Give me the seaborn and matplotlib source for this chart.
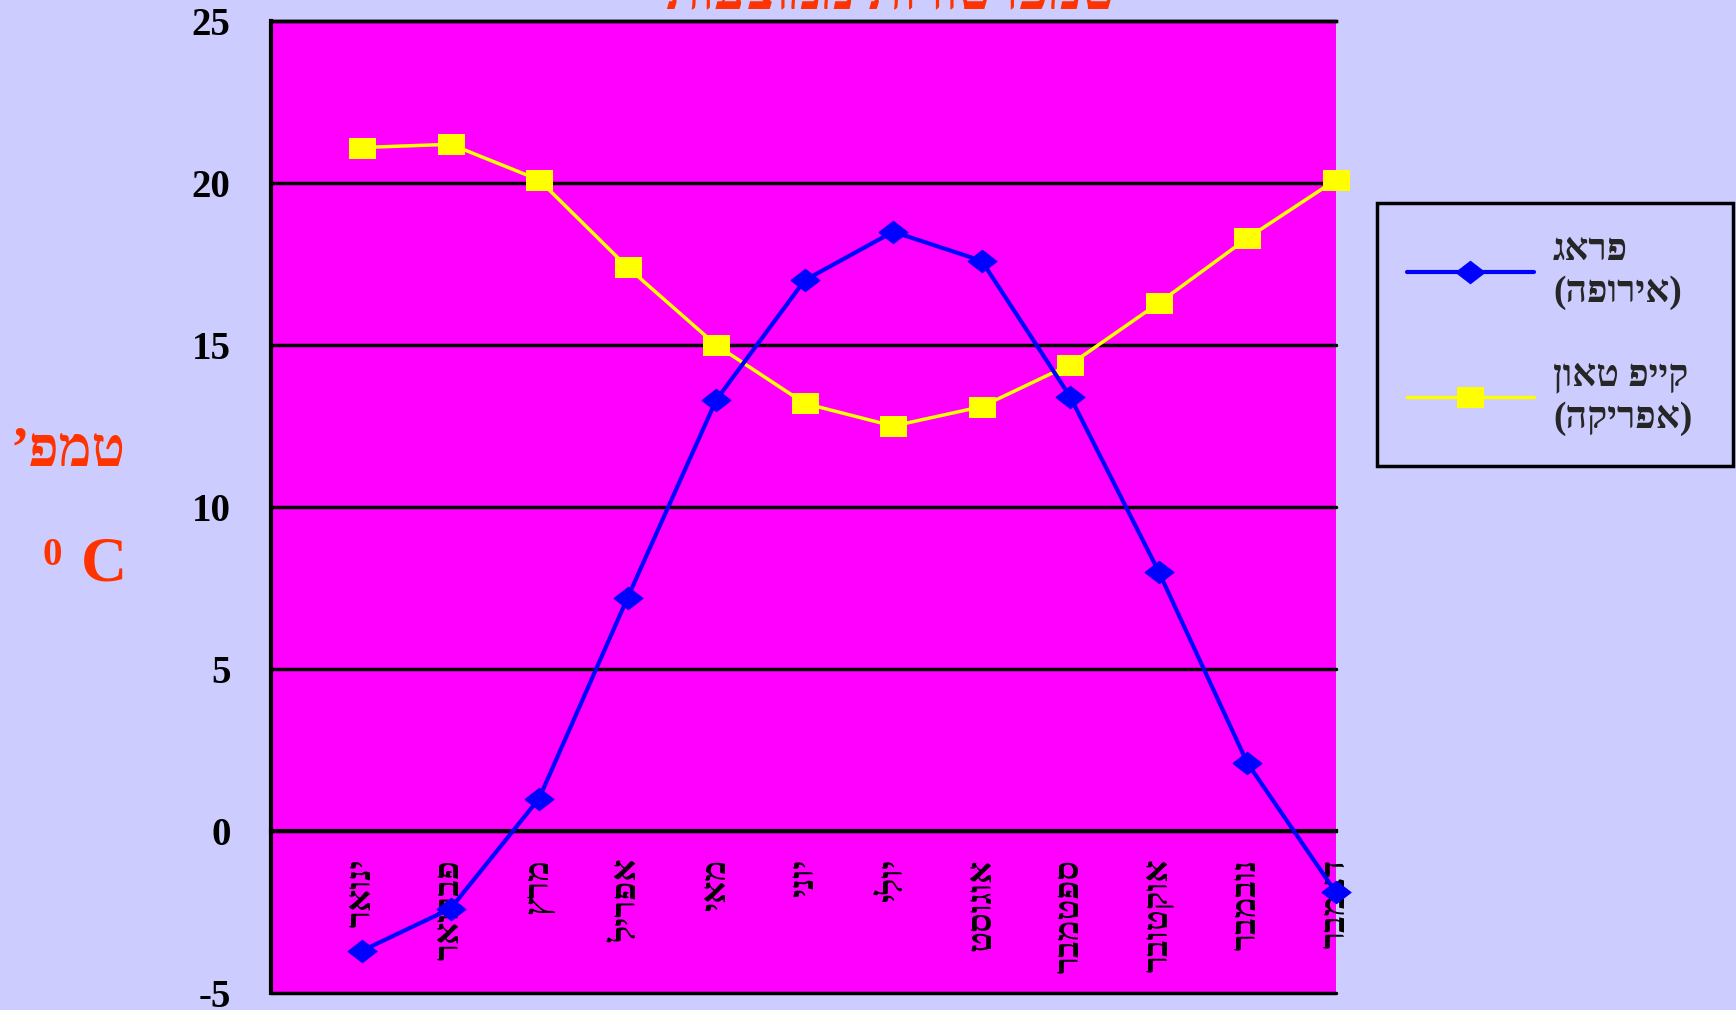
import pandas as pd
import matplotlib.pyplot as plt
import seaborn as sns

# monthly mean temperatures (deg C)
months = ['ינואר', 'פברואר', 'מרץ', 'אפריל', 'מאי', 'יוני',
          'יולי', 'אוגוסט', 'ספטמבר', 'אוקטובר', 'נובמבר', 'דצמבר']
prague = [-3.7, -2.4, 1.0, 7.2, 13.3, 17.0, 18.5, 17.6, 13.4, 8.0, 2.1, -1.9]
cape_town = [21.1, 21.2, 20.1, 17.4, 15.0, 13.2, 12.5, 13.1, 14.4, 16.3, 18.3, 20.1]
series_labels = ['פראג\n(אירופה)', 'קייפ טאון\n(אפריקה)']
y_ticks = [-5, 0, 5, 10, 15, 20, 25]
title = 'טמפרטורות ממוצעות'
y_caption = 'טמפ’'


def visual(s):
    # matplotlib has no bidi support: lay Hebrew out right-to-left by hand
    swap = {'(': ')', ')': '('}
    return '\n'.join(''.join(swap.get(c, c) for c in line[::-1])
                     for line in s.split('\n'))


sns.set_style('white')
plt.rcParams['font.family'] = ['Liberation Serif', 'DejaVu Serif']
plt.rcParams['font.weight'] = 'bold'
plt.rcParams['axes.unicode_minus'] = False

bg = '#CCCCFF'
red = '#FF3300'

df = pd.DataFrame({'month': range(len(months)), 'prague': prague, 'cape': cape_town})

fig = plt.figure(figsize=(17.36, 10.10), dpi=100, facecolor=bg)
ax = fig.add_axes([0.156, 0.017, 0.6135, 0.962])
ax.set_facecolor('#FF00FF')

# slightly wide markers like the original
diamond = [(-1.3, 0), (0, 1), (1.3, 0), (0, -1), (-1.3, 0)]
square = [(-1.35, -1), (1.35, -1), (1.35, 1), (-1.35, 1), (-1.35, -1)]

sns.lineplot(data=df, x='month', y='prague', ax=ax, color='#0000FF', lw=3,
             marker=diamond, markersize=21, markeredgecolor='#0000FF',
             label=visual(series_labels[0]), clip_on=False, zorder=4)
sns.lineplot(data=df, x='month', y='cape', ax=ax, color='#FFFF00', lw=2.5,
             marker=square, markersize=19, markeredgecolor='#FFFF00',
             label=visual(series_labels[1]), clip_on=False, zorder=3)

ax.set_xlim(-1.03, 11)
ax.set_ylim(-5, 25)
ax.set_yticks(y_ticks)
ax.yaxis.grid(True, color='black', lw=2.5)
for gl in ax.get_ygridlines():
    gl.set_clip_on(False)
ax.set_axisbelow(True)

ax.spines['right'].set_visible(False)
ax.spines['top'].set_color('black')
ax.spines['top'].set_linewidth(2.5)
ax.spines['left'].set_color('black')
ax.spines['left'].set_linewidth(3)
ax.spines['bottom'].set_position(('data', 0))
ax.spines['bottom'].set_color('black')
ax.spines['bottom'].set_linewidth(3)

ax.set_xticks(range(len(months)))
ax.set_xticklabels([visual(m) for m in months], rotation=90, fontsize=25,
                   fontweight='bold')
ax.tick_params(axis='x', direction='out', length=12, width=2, pad=8, colors='black')
ax.tick_params(axis='y', direction='out', length=11, width=2, pad=18,
               labelsize=28, colors='black')
for t in ax.get_yticklabels():
    t.set_fontweight('bold')
ax.set_xlabel('')
ax.set_ylabel('')

handles, labels = ax.get_legend_handles_labels()
leg = ax.legend(handles, labels, loc='upper left',
                bbox_to_anchor=(0.793, 0.546, 0.205, 0.253),
                bbox_transform=fig.transFigure, mode='expand', borderaxespad=0,
                frameon=True, fancybox=False, edgecolor='black', facecolor=bg,
                framealpha=1, prop=dict(weight='bold', size=27),
                handlelength=3.4, handletextpad=0.5, borderpad=0.8,
                labelspacing=1.3)
leg.get_frame().set_linewidth(2.5)
for t in leg.get_texts():
    t.set_linespacing(1.25)

# title (cut off at the top in the original)
fig.text(0.513, 0.992, visual(title), color=red, fontsize=40,
         fontweight='bold', ha='center', va='baseline')

# y axis caption
fig.text(0.039, 0.552, visual(y_caption), color=red, fontsize=40,
         fontweight='bold', ha='center', va='center')
fig.text(0.030, 0.450, '0', color=red, fontsize=28, fontweight='bold',
         ha='center', va='center')
fig.text(0.060, 0.440, 'C', color=red, fontsize=46, fontweight='bold',
         ha='center', va='center')

fig.savefig('out.png', dpi=100, facecolor=bg)
